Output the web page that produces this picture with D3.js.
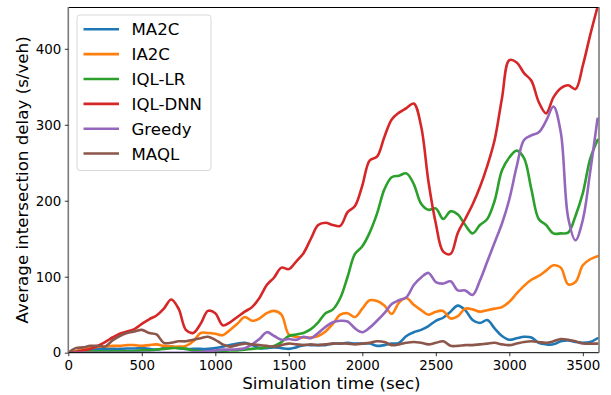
<!DOCTYPE html>
<html>
<head>
<meta charset="utf-8">
<script src="https://cdn.jsdelivr.net/npm/d3@7"></script>
<style>
  body { margin: 0; background: #fff; }
  svg { display: block; font-family: 'DejaVu Sans', sans-serif; }
  .axis path { display: none; }
  .axis line { stroke: #000; stroke-width: 0.8; }
  .axis text { font-size: 13.4px; fill: #000; font-family: 'DejaVu Sans', sans-serif; }
</style>
</head>
<body>
<div id="chart"></div>
<script>
// simulation time (sec), one sample every 50 s
const timeSec = d3.range(0, 3601, 50);

const seriesNames = ['MA2C', 'IA2C', 'IQL-LR', 'IQL-DNN', 'Greedy', 'MAQL'];
const seriesColors = ['#1f77b4', '#ff7f0e', '#2ca02c', '#d62728', '#9467bd', '#8c564b'];

const ma2c = [0, 2, 3, 4, 4.5, 5, 5, 5, 5.5, 5.5, 6, 5, 4, 6, 8, 6, 5, 5, 5, 5,
  6, 8, 10, 12, 13, 10, 6, 6, 7, 6, 5, 7, 10, 10, 10, 10, 12, 12, 13, 12,
  12, 12, 9, 10, 12, 13, 22, 27, 30, 35, 42, 46, 54, 62, 56, 43, 39, 43, 32, 22,
  17, 19, 21, 20, 13, 11, 11, 15, 16, 14, 13, 14, 19];

const ia2c = [0, 2, 4, 6, 8, 8, 9, 9, 10, 10, 9, 10, 11, 9, 8, 8, 9, 15, 26, 26,
  25, 23, 30, 38, 47, 42, 45, 52, 55, 50, 24, 21, 20, 20, 22, 28, 38, 50, 52, 47,
  58, 69, 68, 62, 51, 66, 72, 63, 56, 50, 54, 55, 45, 48, 58, 57, 54, 56, 58, 60,
  67, 78, 88, 96, 101, 108, 115, 112, 90, 93, 115, 123, 127];

const iqlLr = [0, 1, 2, 2, 2, 2, 2, 2, 2, 2, 3, 3, 4, 5, 6, 6, 5, 3, 2, 2,
  2, 2, 3, 3, 4, 5, 6, 7, 9, 14, 22, 24, 26, 31, 40, 52, 57, 72, 100, 130,
  140, 158, 183, 215, 231, 233, 236, 222, 196, 188, 190, 176, 186, 182, 168, 157, 168, 176, 200, 240,
  257, 266, 256, 215, 176, 168, 157, 157, 158, 180, 210, 255, 280];

const iqlDnn = [0, 1, 3, 5, 9, 14, 20, 25, 28, 31, 38, 44, 49, 58, 70, 58, 30, 26, 38, 55,
  52, 36, 40, 47, 54, 60, 72, 89, 99, 112, 110, 120, 131, 150, 168, 171, 168, 167, 185, 193,
  220, 253, 258, 284, 307, 316, 322, 328, 298, 225, 170, 133, 130, 158, 176, 195, 218, 246, 280, 335,
  385, 382, 368, 358, 330, 315, 336, 348, 352, 347, 378, 418, 455];

const greedy = [0, 0, 0, 0, 0, 0, 0, 0, 0, 0, 0, 0, 0, 0, 0, 0, 0, 0.5, 1, 2,
  3, 4, 4, 4.5, 6, 11, 18, 27, 22, 17, 18, 17, 21, 19, 26, 34, 40, 42, 41, 32,
  27, 33, 42, 52, 64, 69, 73, 89, 99, 105, 93, 91, 94, 82, 82, 76, 95, 120, 145, 170,
  202, 245, 280, 286, 290, 305, 324, 290, 178, 148, 175, 238, 308];

const maql = [0, 6, 7, 9, 9, 8, 16, 22, 26, 28, 30, 26, 24, 13, 13, 15, 15, 17, 19, 21,
  17, 11, 8, 10, 12, 11, 10, 9, 8, 10, 12, 11, 10, 11, 10, 11, 12, 12, 12, 11,
  12, 13, 15, 14, 10, 11, 13, 14, 13, 11, 13, 15, 9, 9, 10, 10, 11, 12, 13, 11,
  10, 12, 14, 15, 14, 13, 15, 18, 17, 15, 12, 12, 12];

const seriesValues = [ma2c, ia2c, iqlLr, iqlDnn, greedy, maql];

const xTicks = [0, 500, 1000, 1500, 2000, 2500, 3000, 3500];
const yTicks = [0, 100, 200, 300, 400];

const draw = () => {
  const dataSet = seriesNames.map((name, i) => ({
    name,
    color: seriesColors[i],
    points: timeSec.map((t, j) => ({ t, v: seriesValues[i][j] }))
  }));

  const xAccessor = (d) => d.t;
  const yAccessor = (d) => d.v;

  const dimensions = {
    width: 611,
    height: 395,
    margin: {
      top: 7,
      bottom: 42.3,
      left: 68.3,
      right: 12
    }
  };

  dimensions.containerWidth = dimensions.width - dimensions.margin.left - dimensions.margin.right;
  dimensions.containerHeight = dimensions.height - dimensions.margin.top - dimensions.margin.bottom;

  const svg = d3.select('#chart')
    .append('svg')
    .attr('width', dimensions.width)
    .attr('height', dimensions.height);

  const container = svg.append('g')
    .attr('transform', `translate(${dimensions.margin.left}, ${dimensions.margin.top})`);

  const xScale = d3.scaleLinear()
    .domain([0, 3610])
    .range([0, dimensions.containerWidth]);

  const yScale = d3.scaleLinear()
    .domain([0, 455])
    .range([dimensions.containerHeight, 0]);

  svg.append('defs')
    .append('clipPath')
    .attr('id', 'plot-clip')
    .append('rect')
    .attr('width', dimensions.containerWidth)
    .attr('height', dimensions.containerHeight);

  const lineGenerator = d3.line()
    .x((d) => xScale(xAccessor(d)))
    .y((d) => yScale(Math.max(0, yAccessor(d))))
    .curve(d3.curveCatmullRom.alpha(0.5));

  container.append('g')
    .attr('clip-path', 'url(#plot-clip)')
    .selectAll('path')
    .data(dataSet)
    .join('path')
    .attr('d', (d) => lineGenerator(d.points))
    .attr('fill', 'none')
    .attr('stroke', (d) => d.color)
    .attr('stroke-width', 2.6)
    .attr('stroke-linejoin', 'round')
    .attr('stroke-linecap', 'round');

  // spines
  const spines = container.append('g');
  spines.append('line')
    .attr('x1', 0).attr('x2', dimensions.containerWidth)
    .attr('y1', 0.5).attr('y2', 0.5)
    .attr('stroke', '#000').attr('stroke-width', 1);
  spines.append('line')
    .attr('x1', 0).attr('x2', dimensions.containerWidth)
    .attr('y1', dimensions.containerHeight).attr('y2', dimensions.containerHeight)
    .attr('stroke', '#000').attr('stroke-width', 1);
  spines.append('line')
    .attr('x1', 0).attr('x2', 0)
    .attr('y1', 0).attr('y2', dimensions.containerHeight)
    .attr('stroke', '#7a7a7a').attr('stroke-width', 1.6);
  spines.append('line')
    .attr('x1', dimensions.containerWidth).attr('x2', dimensions.containerWidth)
    .attr('y1', 0).attr('y2', dimensions.containerHeight)
    .attr('stroke', '#7a7a7a').attr('stroke-width', 1.6);

  const xAxis = d3.axisBottom(xScale)
    .tickValues(xTicks)
    .tickSize(3.5)
    .tickPadding(4)
    .tickFormat(d3.format('d'));

  const xAxisGroup = container.append('g')
    .call(xAxis)
    .attr('transform', `translate(0, ${dimensions.containerHeight})`)
    .classed('axis', true);

  xAxisGroup.append('text')
    .attr('x', xScale(1790))
    .attr('y', 36.5)
    .attr('fill', 'black')
    .style('font-size', '16.7px')
    .style('text-anchor', 'middle')
    .text('Simulation time (sec)');

  const yAxis = d3.axisLeft(yScale)
    .tickValues(yTicks)
    .tickSize(3.5)
    .tickPadding(3.5);

  const yAxisGroup = container.append('g')
    .call(yAxis)
    .classed('axis', true);

  yAxisGroup.append('text')
    .attr('transform', `translate(${27.5 - dimensions.margin.left}, ${dimensions.containerHeight / 2}) rotate(-90)`)
    .attr('fill', 'black')
    .style('font-size', '16.7px')
    .style('text-anchor', 'middle')
    .text('Average intersection delay (s/veh)');

  // legend
  const legend = svg.append('g')
    .attr('transform', 'translate(77, 15)');

  legend.append('rect')
    .attr('width', 134)
    .attr('height', 155.5)
    .attr('rx', 3)
    .attr('fill', '#fff')
    .attr('fill-opacity', 0.8)
    .attr('stroke', '#d9d9d9')
    .attr('stroke-width', 1);

  const legendItems = legend.selectAll('g.item')
    .data(dataSet)
    .join('g')
    .classed('item', true)
    .attr('transform', (_, i) => `translate(0, ${14.3 + i * 24.85})`);

  legendItems.append('line')
    .attr('x1', 6.5)
    .attr('x2', 42)
    .attr('stroke', (d) => d.color)
    .attr('stroke-width', 2.6);

  legendItems.append('text')
    .attr('x', 54.5)
    .attr('dy', '0.36em')
    .style('font-size', '16.6px')
    .attr('fill', '#000')
    .text((d) => d.name);
};

draw();
</script>
</body>
</html>
